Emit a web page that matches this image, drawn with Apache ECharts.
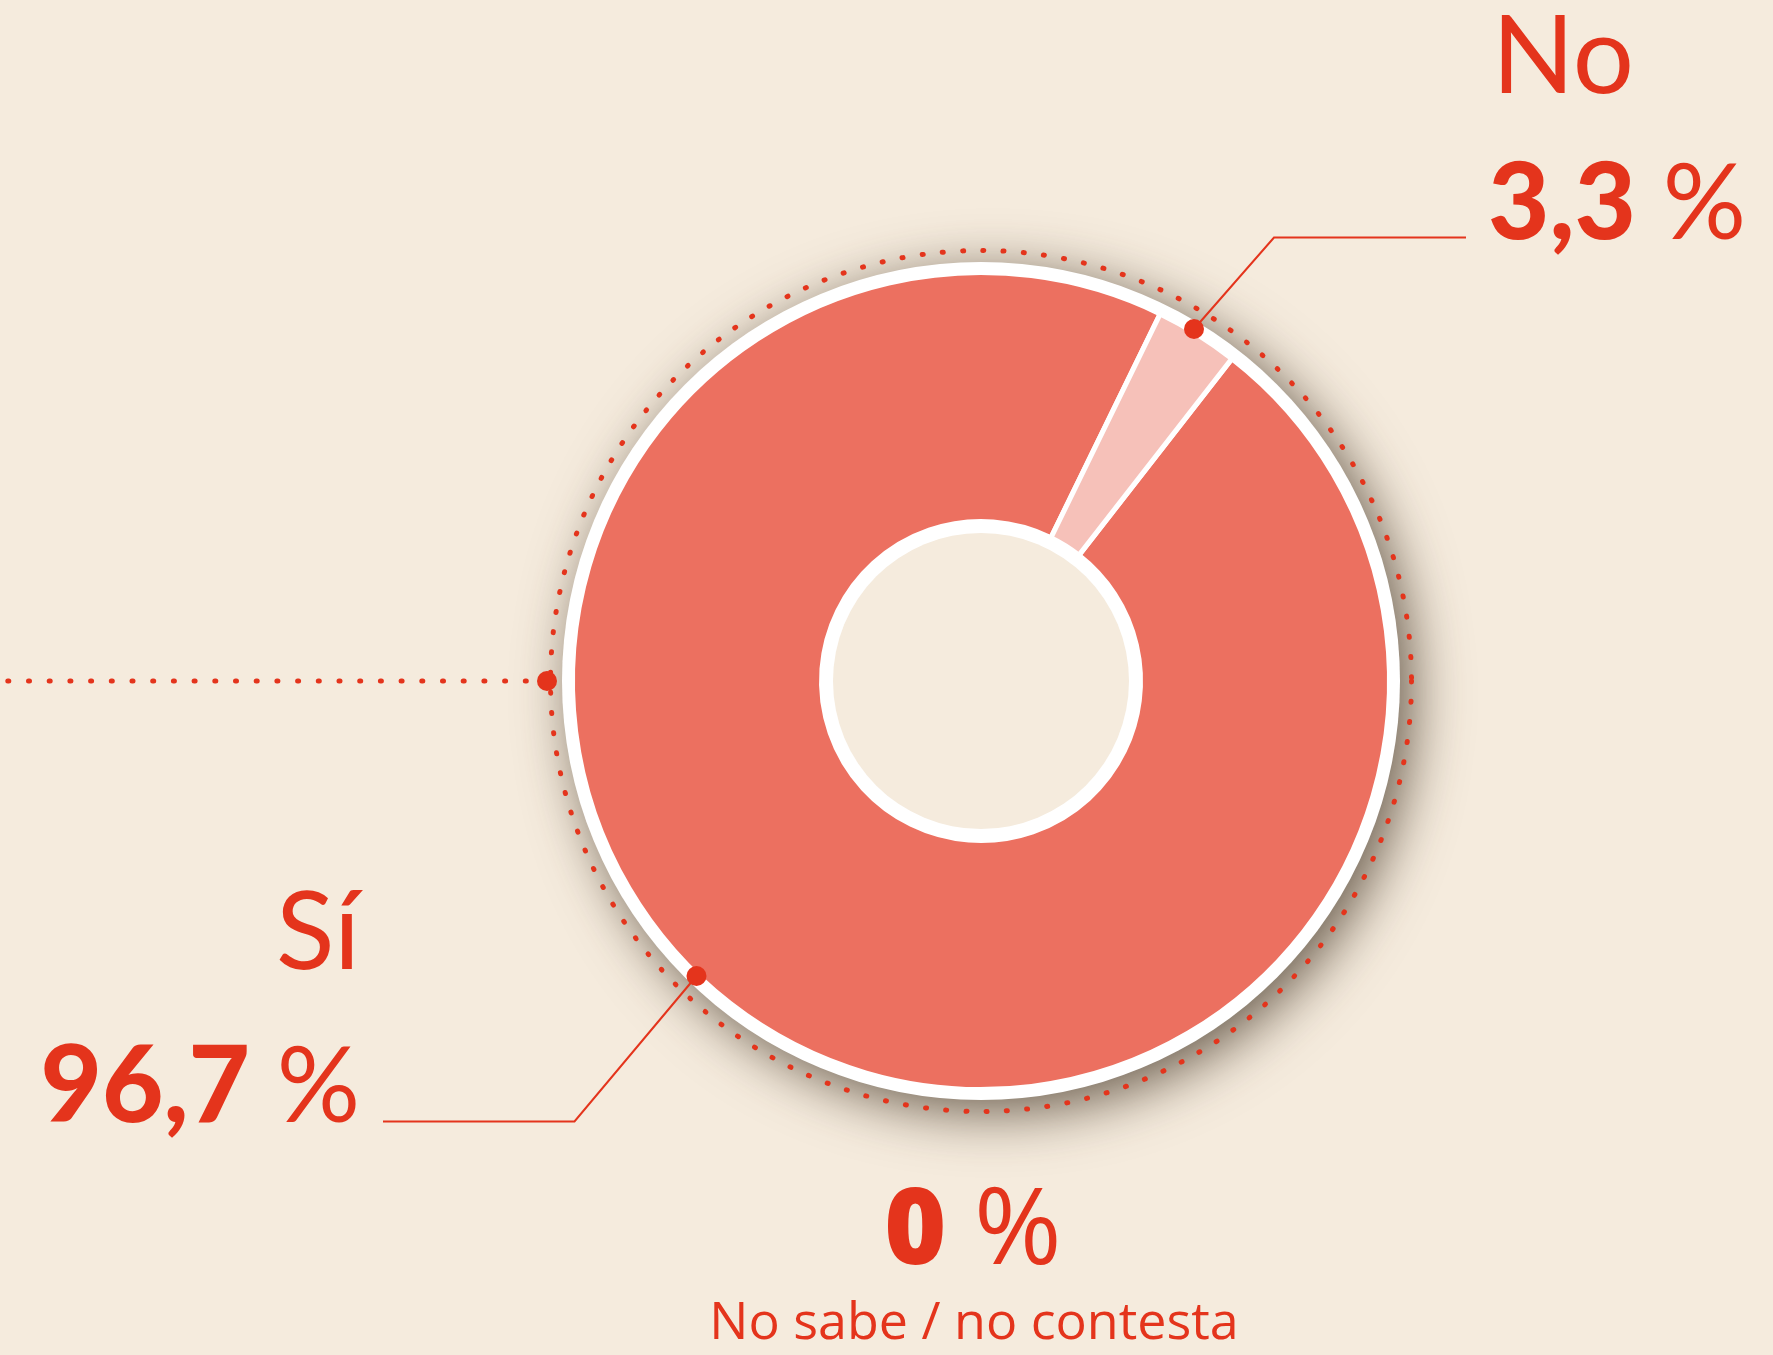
<!DOCTYPE html>
<html>
<head>
<meta charset="utf-8">
<script src="https://cdn.jsdelivr.net/npm/echarts@6/dist/echarts.min.js"></script>
<style>
html,body{margin:0;padding:0;background:#F5EBDD;}
#chart{width:1773px;height:1355px;}
</style>
</head>
<body>
<div id="chart"></div>
<script>
// ---- data ----
const categories = ['Sí', 'No', 'No sabe / no contesta'];
const values = [96.7, 3.3, 0];
const valueLabels = ['96,7', '3,3', '0'];

// ---- styles ----
const sliceColors = ['#EC7060', '#F6C1B9', '#EC7060'];
const RED = '#E4341C';
const BG = '#F5EBDD';
const CX = 981, CY = 681;

const chart = echarts.init(document.getElementById('chart'), null, {renderer: 'canvas'});

const pieData = categories.map((c, i) => ({name: c, value: values[i], itemStyle: {color: sliceColors[i]}}))
  .filter(d => d.value > 0);

function bigValue(i, x, y, align) {
  return {
    type: 'text', z: 20, x: x, y: y,
    style: {
      text: '{n|' + valueLabels[i] + '}{p| %}',
      align: align, verticalAlign: 'middle',
      rich: {
        n: {fontFamily: 'Lato', fontWeight: 900, fontSize: 106, fill: RED, color: RED},
        p: {fontFamily: 'Lato', fontWeight: 400, fontSize: 104, fill: RED, color: RED}
      }
    }
  };
}

const option = {
  backgroundColor: BG,
  animation: false,
  series: [
    { // white disc with shadow
      type: 'pie', z: 1, silent: true, center: [CX, CY], radius: [0, 419],
      label: {show: false}, labelLine: {show: false}, emphasis: {disabled: true},
      data: [{value: 1, itemStyle: {color: '#FFFFFF', shadowBlur: 55, shadowColor: 'rgba(60,45,30,0.75)', shadowOffsetX: 12, shadowOffsetY: 12}}]
    },
    { // data ring
      type: 'pie', z: 2, silent: true, center: [CX, CY], radius: [159.5, 408.5],
      startAngle: 52.1, clockwise: true,
      label: {show: false}, labelLine: {show: false}, emphasis: {disabled: true},
      itemStyle: {borderColor: '#FFFFFF', borderWidth: 5},
      data: pieData
    },
    { // center hole
      type: 'pie', z: 3, silent: true, center: [CX, CY], radius: [0, 148],
      label: {show: false}, labelLine: {show: false}, emphasis: {disabled: true},
      data: [{value: 1, itemStyle: {color: BG}}]
    }
  ],
  graphic: [
    // dotted circle
    {type: 'circle', z: 10, shape: {cx: CX, cy: CY, r: 430.5},
     style: {fill: 'none', stroke: RED, lineWidth: 5, lineDash: [1, 19.3], lineCap: 'round'}},
    // left dotted line
    {type: 'line', z: 10, shape: {x1: 547, y1: 681, x2: 0, y2: 681},
     style: {stroke: RED, lineWidth: 5, lineDash: [1, 19.7], lineCap: 'round'}},
    {type: 'circle', z: 11, shape: {cx: 547, cy: 681, r: 10}, style: {fill: RED}},
    // leader No
    {type: 'polyline', z: 10, shape: {points: [[1194, 329], [1274, 237.5], [1466, 237.5]]},
     style: {stroke: RED, lineWidth: 2, fill: 'none'}},
    {type: 'circle', z: 11, shape: {cx: 1194, cy: 329, r: 10}, style: {fill: RED}},
    // leader Sí
    {type: 'polyline', z: 10, shape: {points: [[696.5, 976], [574.5, 1121.5], [383, 1121.5]]},
     style: {stroke: RED, lineWidth: 2, fill: 'none'}},
    {type: 'circle', z: 11, shape: {cx: 696.5, cy: 976, r: 10}, style: {fill: RED}},
    // texts No
    {type: 'text', z: 20, x: 1492, y: 96 - 38,
     style: {text: categories[1], fontFamily: 'Lato', fontWeight: 400, fontSize: 108, fill: RED, align: 'left', verticalAlign: 'middle'}},
    bigValue(1, 1488, 242 - 37, 'left'),
    // texts Sí
    {type: 'text', z: 20, x: 360, y: 972 - 38,
     style: {text: categories[0], fontFamily: 'Lato', fontWeight: 400, fontSize: 108, fill: RED, align: 'right', verticalAlign: 'middle'}},
    bigValue(0, 360, 1125 - 37, 'right'),
    // NS/NC
    {type: 'text', z: 20, x: 973, y: 1272 - 38,
     style: {
       text: '{n|' + valueLabels[2] + '}{p| %}', align: 'center', verticalAlign: 'middle',
       rich: {
         n: {fontFamily: 'Open Sans', fontWeight: 800, fontSize: 106, fill: RED, color: RED},
         p: {fontFamily: 'Open Sans', fontWeight: 400, fontSize: 106, fill: RED, color: RED}
       }
     }},
    {type: 'text', z: 20, x: 974, y: 1343 - 19,
     style: {text: categories[2], fontFamily: 'Open Sans', fontWeight: 400, fontSize: 52, fill: RED, align: 'center', verticalAlign: 'middle'}}
  ]
};
chart.setOption(option);
</script>
</body>
</html>
